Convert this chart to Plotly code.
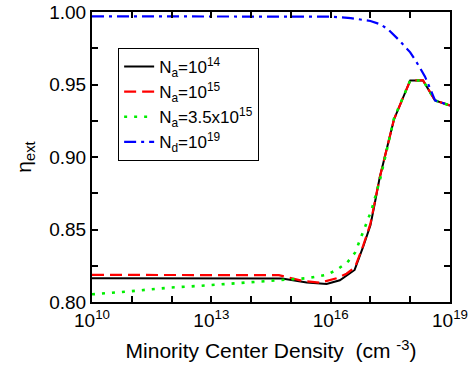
import plotly.graph_objects as go

# ---- data ----
density_na14 = [1e10, 1e11, 1e12, 1e13, 1e14, 6.0e14, 2.5e15, 7.9e15, 1.7e16, 4.0e16,
                6.6e16, 1.0e17, 1.29e17, 1.7e17, 3.9e17, 1e18, 2.1e18, 4.2e18, 1e19]
eta_na14 = [0.8164, 0.8164, 0.8164, 0.8164, 0.8164, 0.8162, 0.8135, 0.8124, 0.8150, 0.8221,
            0.8383, 0.8530, 0.8683, 0.8855, 0.9259, 0.9528, 0.9528, 0.9390, 0.9355]

density_na15 = [1e10, 1e11, 1e12, 1e13, 1e14, 5.0e14, 1.86e15, 5.4e15, 1.41e16, 2.5e16,
                4.1e16, 6.6e16, 1.0e17, 1.29e17, 1.7e17, 3.9e17, 1e18, 2.1e18, 4.2e18, 1e19]
eta_na15 = [0.8187, 0.8187, 0.8187, 0.8187, 0.8187, 0.8185, 0.8147, 0.8133, 0.8164, 0.8195,
            0.8240, 0.8390, 0.8540, 0.8683, 0.8855, 0.9259, 0.9528, 0.9528, 0.9390, 0.9355]

density_na35 = [1e10, 3.2e10, 1e11, 3.2e11, 1e12, 5.0e12, 2.0e13, 6.3e13, 2.0e14, 7.1e14,
                2.5e15, 7.9e15, 1.4e16, 2.6e16, 4.1e16, 6.6e16, 1.07e17, 1.74e17, 3.9e17,
                1e18, 2.1e18, 4.2e18, 1e19]
eta_na35 = [0.8053, 0.8062, 0.8075, 0.8088, 0.8100, 0.8111, 0.8123, 0.8133, 0.8140, 0.8152,
            0.8164, 0.8187, 0.8221, 0.8272, 0.8340, 0.8486, 0.8636, 0.8844, 0.9265,
            0.9528, 0.9528, 0.9390, 0.9355]

density_nd19 = [1e10, 1e12, 1e14, 1e15, 1e16, 3.2e16, 1e17, 1.74e17, 2.75e17, 5.5e17,
                1e18, 1.55e18, 2.34e18, 3.47e18, 4.2e18, 1e19]
eta_nd19 = [0.9970, 0.9970, 0.9970, 0.9970, 0.9968, 0.9958, 0.9938, 0.9916, 0.9882, 0.9800,
            0.9722, 0.9640, 0.9556, 0.9446, 0.9390, 0.9355]

x_tickvals = [1e10, 1e11, 1e12, 1e13, 1e14, 1e15, 1e16, 1e17, 1e18, 1e19]
x_ticktext = ["10<sup>10</sup>", "", "", "10<sup>13</sup>", "", "", "10<sup>16</sup>", "", "", "10<sup>19</sup>"]
y_tickvals = [0.800, 0.825, 0.850, 0.875, 0.900, 0.925, 0.950, 0.975, 1.000]
y_ticktext = ["0.80", "", "0.85", "", "0.90", "", "0.95", "", "1.00"]

FONT = "Arial, Liberation Sans, sans-serif"

fig = go.Figure()
fig.add_trace(go.Scatter(x=density_na14, y=eta_na14, mode="lines", legendgroup="a",
                         name="N<sub>a</sub>=10<sup>14</sup>",
                         line=dict(color="black", width=2, dash="solid")))
fig.add_trace(go.Scatter(x=density_na15, y=eta_na15, mode="lines", legendgroup="b",
                         name="N<sub>a</sub>=10<sup>15</sup>",
                         line=dict(color="#ff0000", width=2.2, dash="12px,6px")))
fig.add_trace(go.Scatter(x=density_na35, y=eta_na35, mode="lines", legendgroup="c",
                         name="N<sub>a</sub>=3.5x10<sup>15</sup>",
                         line=dict(color="#00ee00", width=2.6, dash="3px,7px")))
fig.add_trace(go.Scatter(x=density_nd19, y=eta_nd19, mode="lines", legendgroup="d",
                         name="N<sub>d</sub>=10<sup>19</sup>",
                         line=dict(color="#0000ff", width=2.2, dash="12px,5px,3px,5px")))

fig.update_layout(
    width=469, height=372,
    margin=dict(l=92, r=19, t=12, b=70),
    paper_bgcolor="white", plot_bgcolor="white",
    font=dict(family=FONT, color="black", size=16),
    showlegend=True,
    legend=dict(x=0.073, y=0.876, xanchor="left", yanchor="top",
                bordercolor="black", borderwidth=1, bgcolor="white",
                font=dict(size=17, family=FONT), tracegroupgap=0),
    xaxis=dict(type="log", range=[10, 19], tickmode="array", automargin=False,
               tickvals=x_tickvals, ticktext=x_ticktext,
               ticks="inside", ticklen=6, tickwidth=2, tickcolor="black",
               showline=True, linewidth=2, linecolor="black", mirror="allticks",
               showgrid=False, zeroline=False,
               tickfont=dict(size=19, family=FONT),
               title=dict(text="Minority Center Density  (cm <sup>-3</sup>)",
                          font=dict(size=21, family=FONT), standoff=14)),
    yaxis=dict(range=[0.80, 1.00], tickmode="array", automargin=False,
               tickvals=y_tickvals, ticktext=y_ticktext,
               ticks="inside", ticklen=6, tickwidth=2, tickcolor="black",
               showline=True, linewidth=2, linecolor="black", mirror="allticks",
               showgrid=False, zeroline=False,
               tickfont=dict(size=19, family=FONT),
               title=dict(text="η<sub>ext</sub>", font=dict(size=21, family=FONT), standoff=12)),
)

fig.write_html("out.html")
